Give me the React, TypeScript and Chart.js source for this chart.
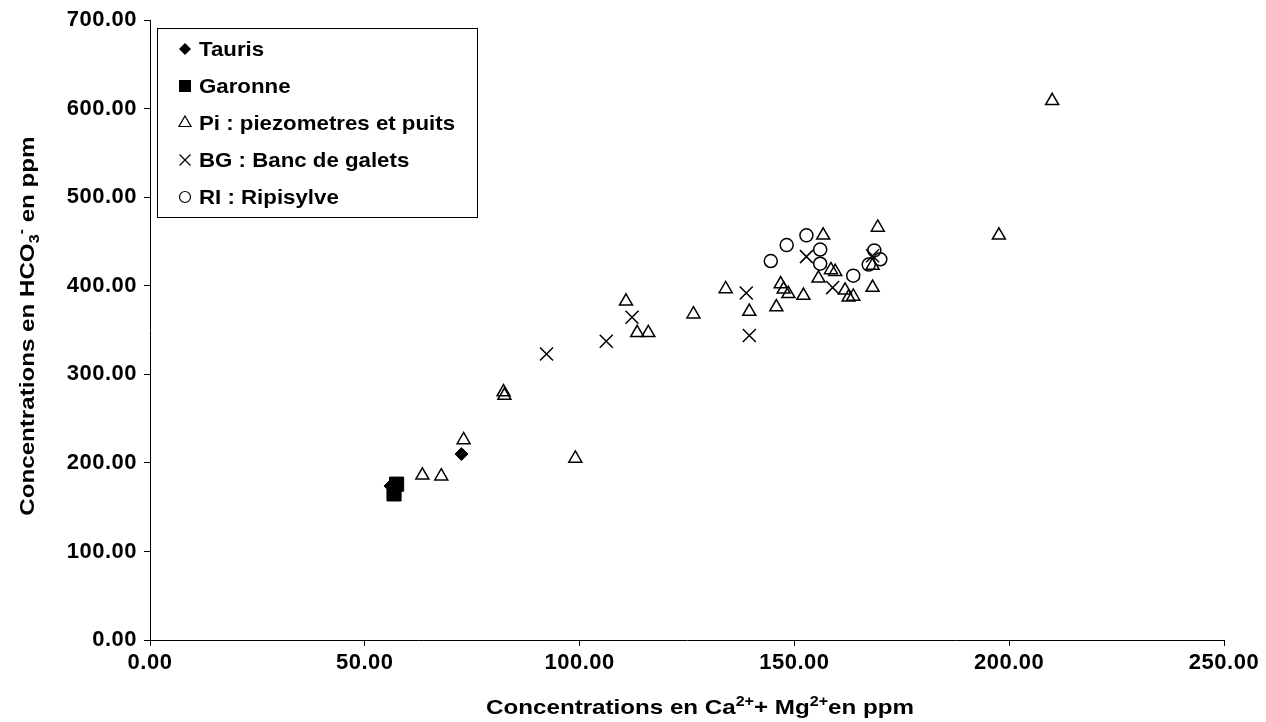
import React, { useEffect, useRef } from 'react';
import { Chart, registerables } from 'chart.js';

Chart.register(...registerables);

// ---------------- data ----------------
const taurisX = [72.5, 56.0];
const taurisY = [210, 174];

const garonneX = [57.4, 56.8];
const garonneY = [176, 165];

const piX = [210.0, 197.6, 169.4, 168.2, 168.2, 156.7, 158.5, 159.5, 155.6, 146.8, 147.5, 148.6, 152.1, 145.8, 161.8, 162.6, 163.7, 139.5, 134.0, 126.5, 110.8, 113.4, 116.0, 99.0, 82.3, 82.5, 73.0, 63.4, 67.8];
const piY = [609, 457, 466, 423, 398, 457, 418, 416, 408.5, 402, 396, 391, 389, 376, 395, 387, 388, 371, 396.5, 368, 382.5, 347, 347, 205, 280, 276, 226, 186, 185];

const bgX = [152.8, 158.9, 168.2, 138.8, 139.5, 112.2, 106.2, 92.3];
const bgY = [433, 398, 434, 392, 344, 364.5, 337.5, 323];

const riX = [152.8, 148.2, 144.5, 156.0, 156.0, 163.7, 168.6, 170.0, 167.3];
const riY = [457, 446, 428, 441, 425, 411.5, 440, 430, 424];

const xTickValues = [0, 50, 100, 150, 200, 250];
const xTickLabels = ['0.00', '50.00', '100.00', '150.00', '200.00', '250.00'];
const yTickValues = [0, 100, 200, 300, 400, 500, 600, 700];
const yTickLabels = ['0.00', '100.00', '200.00', '300.00', '400.00', '500.00', '600.00', '700.00'];

const seriesNames = ['Tauris', 'Garonne', 'Pi : piezometres et puits', 'BG : Banc de galets', 'RI : Ripisylve'];

// ---------------- styling ----------------
const FONT = '"Liberation Sans", Arial, Helvetica, sans-serif';
const TICK_SIZE = 22;
const TITLE_SIZE = 21;
const LEGEND_SIZE = 21;

type Seg = { t: string; m: 'n' | 'sup' | 'sub' };

const xTitle: Seg[] = [
  { t: 'Concentrations en Ca', m: 'n' },
  { t: '2+', m: 'sup' },
  { t: '+ Mg', m: 'n' },
  { t: '2+', m: 'sup' },
  { t: 'en ppm', m: 'n' },
];
const yTitle: Seg[] = [
  { t: 'Concentrations en HCO', m: 'n' },
  { t: '3', m: 'sub' },
  { t: '-', m: 'sup' },
  { t: ' en ppm', m: 'n' },
];

function zip(xs: number[], ys: number[]) {
  return xs.map((x, i) => ({ x, y: ys[i] }));
}

function setSpacing(ctx: any, px: number) {
  if ('letterSpacing' in ctx) ctx.letterSpacing = `${px}px`;
}

// draws text with sub/superscripts, horizontally stretched by k, centred on cx
function drawRich(ctx: CanvasRenderingContext2D, segs: Seg[], cx: number, baseline: number, size: number, k: number) {
  const small = Math.round(size * 0.66);
  setSpacing(ctx, 0);
  let total = 0;
  for (const s of segs) {
    ctx.font = `bold ${s.m === 'n' ? size : small}px ${FONT}`;
    total += ctx.measureText(s.t).width;
  }
  ctx.save();
  ctx.translate(cx - (total * k) / 2, baseline);
  ctx.scale(k, 1);
  ctx.textAlign = 'left';
  ctx.textBaseline = 'alphabetic';
  let x = 0;
  for (const s of segs) {
    ctx.font = `bold ${s.m === 'n' ? size : small}px ${FONT}`;
    const dy = s.m === 'sup' ? -size * 0.4 : s.m === 'sub' ? size * 0.22 : 0;
    ctx.fillText(s.t, x, dy);
    x += ctx.measureText(s.t).width;
  }
  ctx.restore();
}

function legendSymbol(ctx: CanvasRenderingContext2D, kind: number, x: number, y: number) {
  ctx.save();
  ctx.strokeStyle = '#000';
  ctx.fillStyle = '#000';
  ctx.lineWidth = 1.2;
  ctx.beginPath();
  if (kind === 0) {
    const r = 6;
    ctx.moveTo(x - r, y);
    ctx.lineTo(x, y - r);
    ctx.lineTo(x + r, y);
    ctx.lineTo(x, y + r);
    ctx.closePath();
    ctx.fill();
  } else if (kind === 1) {
    ctx.rect(x - 6, y - 6, 12, 12);
    ctx.fill();
  } else if (kind === 2) {
    const r = 7;
    ctx.moveTo(x, y - r);
    ctx.lineTo(x + r * 0.866, y + r * 0.5);
    ctx.lineTo(x - r * 0.866, y + r * 0.5);
    ctx.closePath();
    ctx.stroke();
  } else if (kind === 3) {
    const h = 5.5;
    ctx.moveTo(x - h, y - h);
    ctx.lineTo(x + h, y + h);
    ctx.moveTo(x + h, y - h);
    ctx.lineTo(x - h, y + h);
    ctx.stroke();
  } else {
    ctx.arc(x, y, 5.5, 0, Math.PI * 2);
    ctx.stroke();
  }
  ctx.restore();
}

const spacingPlugin = {
  id: 'tickSpacing',
  beforeUpdate(chart: any) {
    setSpacing(chart.ctx, 0.5);
  },
  beforeDraw(chart: any) {
    setSpacing(chart.ctx, 0.5);
  },
};

const overlayPlugin = {
  id: 'overlayTitlesLegend',
  afterDraw(chart: any) {
    const ctx: CanvasRenderingContext2D = chart.ctx;
    const area = chart.chartArea;
    ctx.save();
    ctx.fillStyle = '#000';

    // X axis title
    drawRich(ctx, xTitle, 700, 714, TITLE_SIZE, 1.15);

    // Y axis title (rotated)
    ctx.save();
    ctx.translate(34, (area.top + area.bottom) / 2 - 4);
    ctx.rotate(-Math.PI / 2);
    drawRich(ctx, yTitle, 0, 0, TITLE_SIZE, 1.15);
    ctx.restore();

    // Legend box
    const lx = 157, ly = 28, lw = 320, lh = 189;
    ctx.fillStyle = '#fff';
    ctx.fillRect(lx, ly, lw, lh);
    ctx.strokeStyle = '#000';
    ctx.lineWidth = 1;
    ctx.strokeRect(lx + 0.5, ly + 0.5, lw, lh);
    seriesNames.forEach((name, i) => {
      const cy = 49 + i * 37;
      legendSymbol(ctx, i, 185, cy);
      ctx.save();
      ctx.fillStyle = '#000';
      ctx.font = `bold ${LEGEND_SIZE}px ${FONT}`;
      setSpacing(ctx, 0);
      ctx.textAlign = 'left';
      ctx.textBaseline = 'middle';
      ctx.translate(199, cy + 1);
      ctx.scale(1.06, 1);
      ctx.fillText(name, 0, 0);
      ctx.restore();
    });
    ctx.restore();
  },
};

export default function App() {
  const ref = useRef<HTMLCanvasElement | null>(null);

  useEffect(() => {
    if (!ref.current) return;
    const hollow = 'rgba(0,0,0,0)';
    const chart = new Chart(ref.current, {
      type: 'scatter',
      data: {
        datasets: [
          {
            label: seriesNames[0],
            data: zip(taurisX, taurisY),
            pointStyle: 'rectRot',
            pointRadius: 6.5,
            backgroundColor: '#000',
            borderColor: '#000',
            borderWidth: 1,
            order: 4,
          },
          {
            label: seriesNames[1],
            data: zip(garonneX, garonneY),
            pointStyle: 'rect',
            pointRadius: 10,
            backgroundColor: '#000',
            borderColor: '#000',
            borderWidth: 1,
            order: 3,
          },
          {
            label: seriesNames[2],
            data: zip(piX, piY),
            pointStyle: 'triangle',
            pointRadius: 7.5,
            backgroundColor: hollow,
            borderColor: '#000',
            borderWidth: 1.5,
            order: 2,
          },
          {
            label: seriesNames[3],
            data: zip(bgX, bgY),
            pointStyle: 'crossRot',
            pointRadius: 9.2,
            backgroundColor: hollow,
            borderColor: '#000',
            borderWidth: 1.5,
            order: 1,
          },
          {
            label: seriesNames[4],
            data: zip(riX, riY),
            pointStyle: 'circle',
            pointRadius: 6.5,
            backgroundColor: hollow,
            borderColor: '#000',
            borderWidth: 1.5,
            order: 0,
          },
        ],
      },
      options: {
        responsive: false,
        animation: false,
        devicePixelRatio: 1,
        layout: { padding: { top: 19, right: 42, left: 0, bottom: 0 } },
        plugins: {
          legend: { display: false },
          tooltip: { enabled: false },
          title: { display: false },
        },
        scales: {
          x: {
            type: 'linear',
            min: 0,
            max: 250,
            afterBuildTicks: (s: any) => {
              s.ticks = xTickValues.map((v) => ({ value: v }));
            },
            afterFit: (s: any) => {
              s.height = 82;
            },
            ticks: {
              callback: (_v: any, i: number) => xTickLabels[i],
              font: { family: FONT, size: TICK_SIZE, weight: 'bold' },
              color: '#000',
              padding: 4,
              maxRotation: 0,
              autoSkip: false,
            },
            grid: {
              display: true,
              drawOnChartArea: false,
              drawTicks: true,
              tickLength: 6,
              color: '#000',
              lineWidth: 1,
            },
            border: { display: true, color: '#000', width: 1 },
          },
          y: {
            type: 'linear',
            min: 0,
            max: 700,
            afterBuildTicks: (s: any) => {
              s.ticks = yTickValues.map((v) => ({ value: v }));
            },
            afterFit: (s: any) => {
              s.width = 150;
            },
            ticks: {
              callback: (_v: any, i: number) => yTickLabels[i],
              font: { family: FONT, size: TICK_SIZE, weight: 'bold' },
              color: '#000',
              padding: 7,
              autoSkip: false,
            },
            grid: {
              display: true,
              drawOnChartArea: false,
              drawTicks: true,
              tickLength: 6,
              color: '#000',
              lineWidth: 1,
            },
            border: { display: true, color: '#000', width: 1 },
          },
        },
      } as any,
      plugins: [spacingPlugin, overlayPlugin],
    });
    return () => chart.destroy();
  }, []);

  return (
    <div style={{ position: 'fixed', left: 0, top: 0, width: 1266, height: 722, background: '#fff' }}>
      <canvas ref={ref} width={1266} height={722} style={{ display: 'block', width: 1266, height: 722 }} />
    </div>
  );
}
